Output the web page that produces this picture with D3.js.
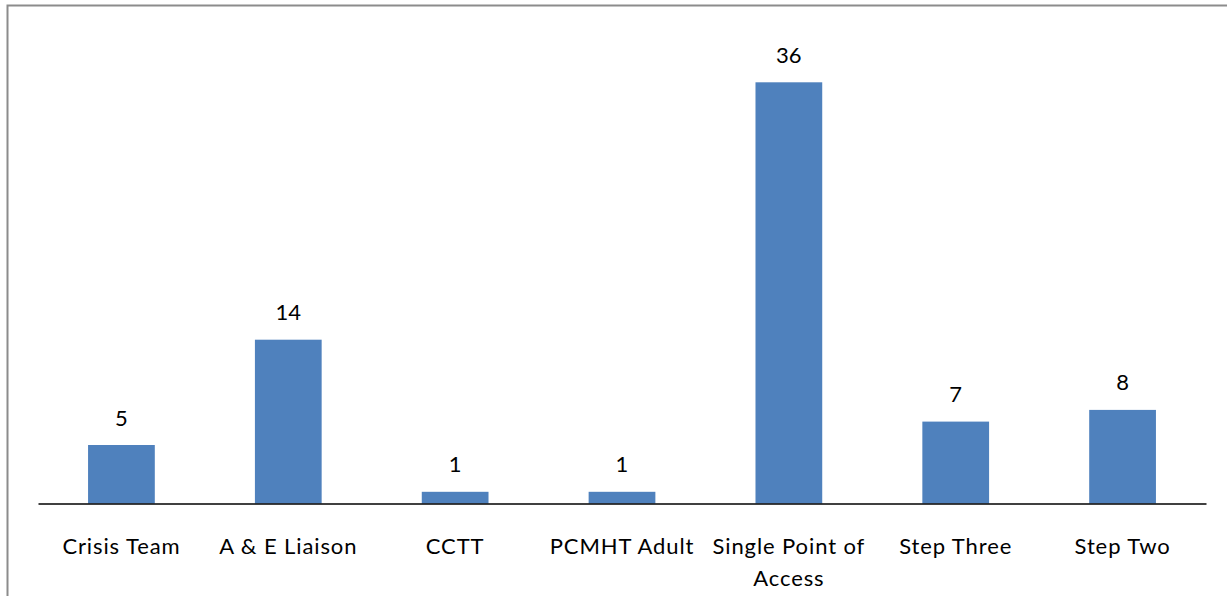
<!DOCTYPE html>
<html>
<head>
<meta charset="utf-8">
<script src="https://cdn.jsdelivr.net/npm/d3@7"></script>
<style>
  body { margin: 0; background: #fff; }
  svg { display: block; }
  text { font-family: Lato, "Open Sans", sans-serif; fill: #000; }
</style>
</head>
<body>
<svg id="canvas" width="1227" height="596"></svg>
<script>
// chart data
const categories = ["Crisis Team", "A & E Liaison", "CCTT", "PCMHT Adult", "Single Point of Access", "Step Three", "Step Two"];
const counts = [5, 14, 1, 1, 36, 7, 8];

const svg = d3.select("#canvas");
const left = 38, right = 1206, baseY = 503.5;

// outer frame (runs off the bottom/right of the picture)
svg.append("rect")
    .attr("x", 7.5).attr("y", 5.5)
    .attr("width", 1240).attr("height", 620)
    .attr("fill", "none")
    .attr("stroke", "#8c8c8c")
    .attr("stroke-width", 2);

var x = d3.scaleBand()
    .domain(categories)
    .range([left, right])
    .paddingInner(0.6)
    .paddingOuter(0.3);

var y = d3.scaleLinear()
    .domain([0, 40])
    .range([baseY, baseY - 468]);

const data = categories.map((c, i) => ({cat: c, value: counts[i]}));

//bars
svg.selectAll("rect.bar")
    .data(data)
    .join("rect")
    .attr("class", "bar")
    .attr("x", d => x(d.cat))
    .attr("y", d => y(d.value))
    .attr("width", x.bandwidth())
    .attr("height", d => y(0) - y(d.value))
    .attr("fill", "#4f81bd");

//value labels
svg.selectAll("text.val")
    .data(data)
    .join("text")
    .attr("class", "val")
    .attr("x", d => x(d.cat) + x.bandwidth() / 2)
    .attr("y", d => y(d.value) - 19.5)
    .attr("text-anchor", "middle")
    .style("font-size", "22px")
    .text(d => d.value);

//x axis, ticks hidden
const axis = svg.append("g")
    .attr("transform", "translate(0," + baseY + ")")
    .call(d3.axisBottom(x).tickSize(0).tickPadding(0));
axis.select(".domain").attr("stroke", "#000").attr("stroke-width", 1.5);
axis.selectAll(".tick text").remove();

//category labels, wrapped like the original
const wrap = {"Single Point of Access": ["Single Point of", "Access"]};
axis.selectAll(".tick").each(function(d) {
    const lines = wrap[d] || [d];
    const t = d3.select(this).append("text")
        .attr("text-anchor", "middle")
        .style("font-size", "22px")
        .style("letter-spacing", "0.9px")
        .attr("fill", "#000");
    lines.forEach((l, i) => {
        t.append("tspan").attr("x", 0).attr("y", 50.8 + i * 32).text(l);
    });
});
</script>
</body>
</html>
